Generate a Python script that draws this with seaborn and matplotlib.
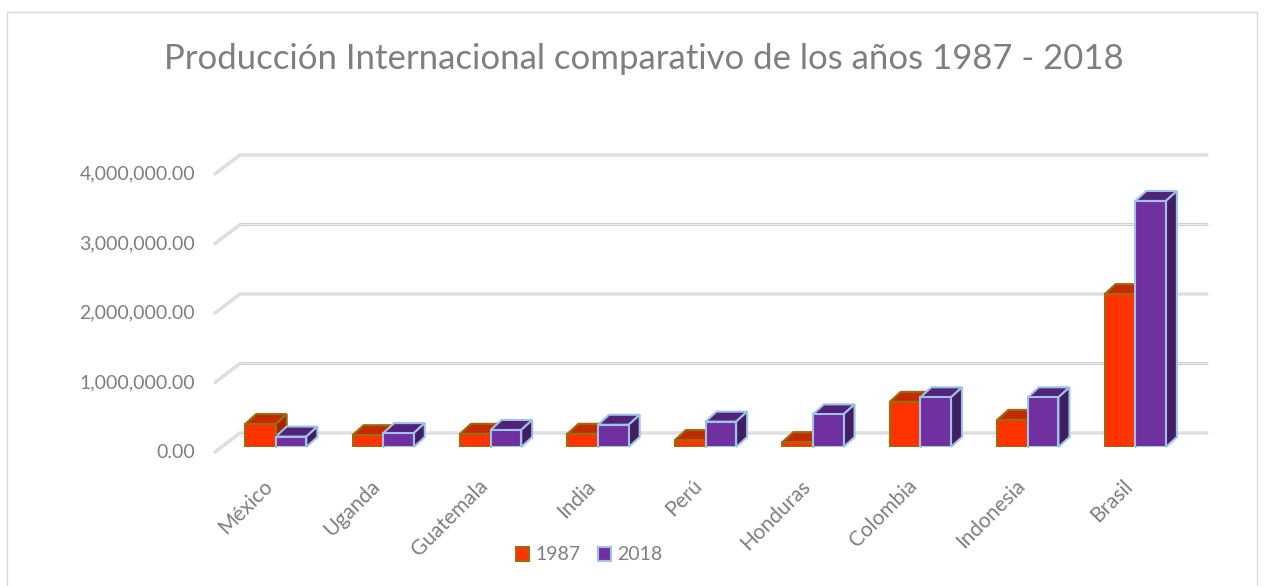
import matplotlib
matplotlib.use('Agg')
import matplotlib.pyplot as plt
import matplotlib.patches as mpatches
import seaborn as sns
import pandas as pd

# data
paises = ['México', 'Uganda', 'Guatemala', 'India', 'Perú', 'Honduras',
          'Colombia', 'Indonesia', 'Brasil']
prod_1987 = [330000, 170000, 190000, 190000, 100000, 70000, 650000, 390000, 2200000]
prod_2018 = [150000, 200000, 245000, 320000, 365000, 470000, 715000, 715000, 3540000]
anios = ['1987', '2018']
yticks = [0, 1000000, 2000000, 3000000, 4000000]

df = pd.DataFrame({
    'pais': paises * 2,
    'produccion': prod_1987 + prod_2018,
    'anio': [anios[0]] * len(paises) + [anios[1]] * len(paises),
})

# colours: front, top, side, edge
front = {'1987': '#FF3300', '2018': '#7030A0'}
top = {'1987': '#C42A00', '2018': '#522379'}
side = {'1987': '#A82300', '2018': '#421D62'}
edge = {'1987': '#9C6B0E', '2018': '#9DC3E6'}
gray = '#7F7F7F'

sns.set_theme(style='white')
plt.rcParams['font.family'] = ['Lato', 'DejaVu Sans']

W, H = 1264, 586
fig = plt.figure(figsize=(W / 100, H / 100), dpi=100)
fig.patch.set_facecolor('white')

# the axes is the plane of the bars' front faces (pixel box)
x0, x1 = 222, 1189
y0, y4 = 447, 169
ax = fig.add_axes([x0 / W, 1 - y0 / H, (x1 - x0) / W, (y0 - y4) / H])

sns.barplot(data=df, x='pais', y='produccion', hue='anio', order=paises,
            hue_order=anios, palette=[front[a] for a in anios],
            width=0.57, gap=0, legend=False, saturation=1, ax=ax)
ax.set_xlim(-0.5, len(paises) - 0.5)
ax.set_ylim(0, 4000000)
ax.axis('off')


def shift(x, y, dx=0, dy=0):
    # data point moved by dx, dy pixels (dy up)
    X, Y = ax.transData.transform((x, y))
    return tuple(ax.transData.inverted().transform((X + dx, Y + dy)))


depth = (11, 10)      # bar depth
back = (18, 14)       # back wall
fore = (-7, -5)       # front edge of the floor

# gridlines on the back wall + left diagonal
for v in yticks:
    pts = [shift(-0.5, v, *fore), shift(-0.5, v, *back),
           shift(len(paises) - 0.5, v, *back)]
    xs, ys = zip(*pts)
    ax.plot(xs, ys, color='#D0D0D0', lw=2.2, zorder=0.5, clip_on=False,
            solid_capstyle='round')
    ax.plot(xs, ys, color='#EDEDED', lw=0.8, zorder=0.6, clip_on=False)
    tx, ty = shift(-0.5, v, fore[0] - 20, fore[1])
    ax.text(tx, ty, f'{v:,.2f}', ha='right', va='center', fontsize=14,
            color=gray, clip_on=False)

# 3D faces for the bars
n = len(paises)
for i, bar in enumerate(ax.patches[:2 * n]):
    a = anios[i // n]
    bx, bw, bh = bar.get_x(), bar.get_width(), bar.get_height()
    bar.set_edgecolor(edge[a])
    bar.set_linewidth(1.5)
    bar.set_zorder(2)
    tl, tr, br = (bx, bh), (bx + bw, bh), (bx + bw, 0)
    top_face = [tl, tr, shift(*tr, *depth), shift(*tl, *depth)]
    side_face = [tr, br, shift(*br, *depth), shift(*tr, *depth)]
    for poly, col in ((top_face, top[a]), (side_face, side[a])):
        ax.add_patch(mpatches.Polygon(poly, closed=True, facecolor=col,
                                      edgecolor=edge[a], lw=1.5,
                                      zorder=1.5, clip_on=False))

# category labels
for i, p in enumerate(paises):
    tx, ty = shift(i, 0, -6, -36)
    ax.text(tx, ty, p, rotation=45, rotation_mode='anchor', ha='right',
            va='center', fontsize=15, color=gray, clip_on=False)

fig.text(644 / W, 1 - 59 / H,
         'Producción Internacional comparativo de los años 1987 - 2018',
         ha='center', va='center', fontsize=25, color=gray)

handles = [mpatches.Patch(facecolor=front[a], edgecolor=edge[a], lw=1.5, label=a)
           for a in anios]
fig.legend(handles=handles, loc='center', bbox_to_anchor=(589 / W, 1 - 555 / H),
           ncol=2, frameon=False, fontsize=14, labelcolor=gray,
           handlelength=0.7, handleheight=0.7, handletextpad=0.3,
           columnspacing=0.9)

fig.patches.append(mpatches.Rectangle((7 / W, -0.01), 1250 / W, 1 - 12 / H + 0.01,
                                      transform=fig.transFigure, fill=False,
                                      edgecolor='#D9D9D9', lw=1))

fig.savefig('out.png', dpi=100)
